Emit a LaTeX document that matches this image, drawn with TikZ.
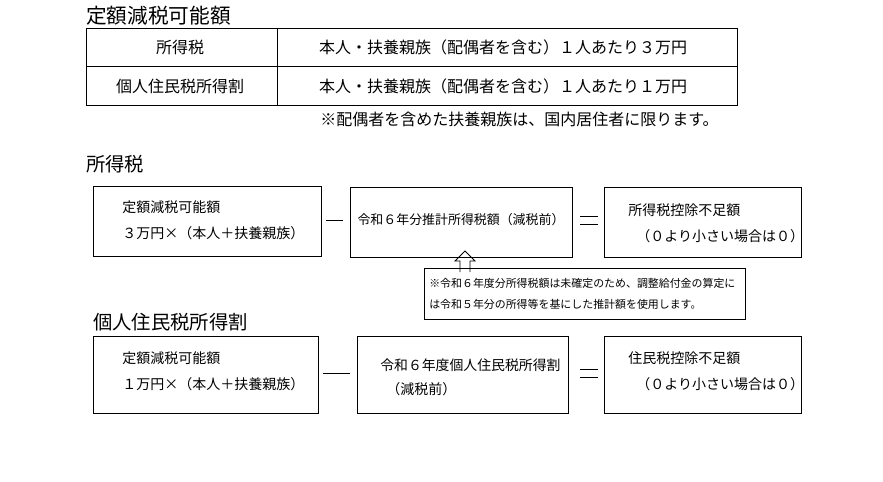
\documentclass[tikz,border=0pt]{standalone}
\usepackage{fontspec}
\setmainfont{Noto Sans CJK JP}
\begin{document}
\begin{tikzpicture}[x=0.75pt,y=-0.75pt,
  bx/.style={draw,line width=0.6pt},
  t/.style={anchor=west,inner sep=0pt,font=\fontsize{12}{14}\selectfont},
  tc/.style={inner sep=0pt,font=\fontsize{12}{14}\selectfont},
  sm/.style={anchor=west,inner sep=0pt,font=\fontsize{10.5}{12}\selectfont},
  hd/.style={anchor=west,inner sep=0pt,font=\fontsize{14.5}{16}\selectfont}]
\useasboundingbox (0,0) rectangle (883,482);
\node[hd,font=\fontsize{15.5}{17}\selectfont] (h1) at (86,16) {定額減税可能額};
\draw[bx] (86,28) rectangle (737,105);
\draw[line width=0.6pt] (86,66) -- (737,66) (277,28) -- (277,105);
\node[tc] (r1a) at (180,47) {所得税};
\node[tc] (r1b) at (503,47) {本人・扶養親族（配偶者を含む）１人あたり３万円};
\node[tc] (r2a) at (180,86) {個人住民税所得割};
\node[tc] (r2b) at (503,86) {本人・扶養親族（配偶者を含む）１人あたり１万円};
\node[t] (n1) at (320,119) {※配偶者を含めた扶養親族は、国内居住者に限ります。};
\node[hd] (h2) at (86,164) {所得税};
\draw[bx] (93,186) rectangle (321,256);
\node[sm] (a1) at (122,207) {定額減税可能額};
\node[sm] (a2) at (122,233) {３万円×（本人＋扶養親族）};
\draw (326,220) -- (343,220);
\draw[bx] (350,187) rectangle (572,257);
\node[tc,font=\fontsize{9.7}{11}\selectfont] (b1) at (461,220) {令和６年分推計所得税額（減税前）};
\draw (580,216) -- (598,216) (580,224) -- (598,224);
\draw[bx] (604,187) rectangle (801,257);
\node[sm] (c1) at (628,210) {所得税控除不足額};
\node[sm] (c2) at (636,236) {（０より小さい場合は０）};
\draw[line width=0.6pt] (460,272) -- (460,261) -- (455,261) -- (465,251) -- (475,261) -- (470,261) -- (470,272);
\draw[bx] (424,268) rectangle (745,319);
\node[sm,font=\fontsize{8.2}{10}\selectfont] (d1) at (429,283) {※令和６年度分所得税額は未確定のため、調整給付金の算定に};
\node[sm,font=\fontsize{8.2}{10}\selectfont] (d2) at (429,304) {は令和５年分の所得等を基にした推計額を使用します。};
\node[hd] (h3) at (93,322) {個人住民税所得割};
\draw[bx] (93,336) rectangle (318,413);
\node[sm] (e1) at (122,358) {定額減税可能額};
\node[sm] (e2) at (122,384) {１万円×（本人＋扶養親族）};
\draw (323,373) -- (350,373);
\draw[bx] (357,336) rectangle (568,413);
\node[sm,font=\fontsize{10.4}{12}\selectfont] (f1) at (380,365) {令和６年度個人住民税所得割};
\node[sm] (f2) at (386,389) {（減税前）};
\draw (580,369) -- (598,369) (580,377) -- (598,377);
\draw[bx] (604,336) rectangle (801,413);
\node[sm] (g1) at (628,358) {住民税控除不足額};
\node[sm] (g2) at (636,384) {（０より小さい場合は０）};
\end{tikzpicture}
\end{document}
